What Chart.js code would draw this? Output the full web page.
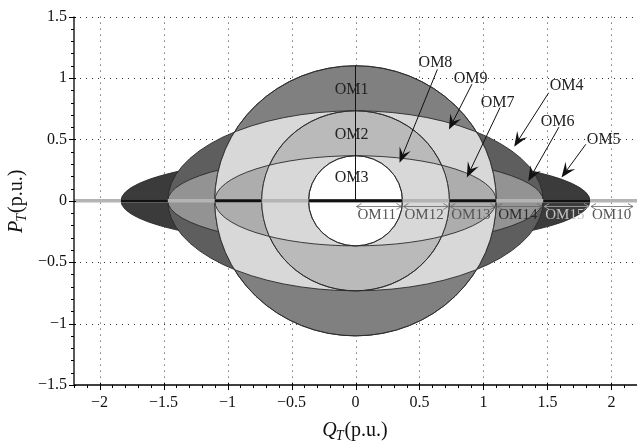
<!DOCTYPE html>
<html>
<head>
<meta charset="utf-8">
<script src="https://cdn.jsdelivr.net/npm/chart.js@4.4.1/dist/chart.umd.min.js"></script>
<style>
  html, body { margin: 0; padding: 0; background: #fff; }
  canvas { display: block; }
</style>
</head>
<body>
<canvas id="chart" width="637" height="445"></canvas>
<script>
// axis ticks (p.u.)
const qTicks = [-2, -1.5, -1, -0.5, 0, 0.5, 1, 1.5, 2];
const pTicks = [-1.5, -1, -0.5, 0, 0.5, 1, 1.5];

// boundary curves, all centred on the origin: semi-axis along Q and along P
const shapeNames = ["E5", "E42", "E41", "C3", "E31", "C2", "C1"];
const semiQ = [1.833, 1.467, 1.467, 1.1, 1.1, 0.733, 0.367];
const semiP = [0.367, 0.733, 0.367, 1.1, 0.367, 0.733, 0.367];

// thick black pieces of the P = 0 line
const segFrom = [-1.833, -1.1, -0.367, 0.733, 1.467];
const segTo = [-1.467, -0.733, 0.367, 1.1, 1.833];

// Q ranges marked under the axis
const rangeNames = ["OM11", "OM12", "OM13", "OM14", "OM15", "OM10"];
const rangeFrom = [0, 0.367, 0.733, 1.1, 1.467, 1.833];
const rangeTo = [0.367, 0.733, 1.1, 1.467, 1.833, 2.2];

// labels written inside the regions
const regionNames = ["OM1", "OM2", "OM3"];
const regionQ = [-0.03, -0.03, -0.03];
const regionP = [0.9, 0.54, 0.19];

// labels with arrows: text point, arrow start, arrow tip
const calloutNames = ["OM8", "OM9", "OM7", "OM4", "OM6", "OM5"];
const calloutQ = [0.625, 0.9, 1.11, 1.65, 1.58, 1.94];
const calloutP = [1.12, 0.99, 0.8, 0.94, 0.64, 0.5];
const tailQ = [0.64, 0.91, 1.13, 1.51, 1.59, 1.8];
const tailP = [1.07, 0.95, 0.76, 0.88, 0.6, 0.46];
const tipQ = [0.344, 0.73, 0.87, 1.24, 1.35, 1.61];
const tipP = [0.31, 0.58, 0.19, 0.44, 0.16, 0.19];

const serif = "'Liberation Serif', 'DejaVu Serif', serif";

// fill order: [shape, clipped to shape, colour]
const layers = [
  ["E5", null, "#3b3b3b"],
  ["E42", null, "#5e5e5e"],
  ["E41", null, "#939393"],
  ["C3", null, "#808080"],
  ["E42", "C3", "#d8d8d8"],
  ["E31", "C3", "#adadad"],
  ["C2", null, "#bababa"],
  ["E31", "C2", "#d8d8d8"],
  ["C1", null, "#ffffff"],
];

// text colour of the range labels (light one sits on the dark region)
const rangeInk = ["#555", "#555", "#555", "#2a2a2a", "#c4c4c4", "#555"];

function shapePath(chart, name) {
  const { ctx, scales: { x, y } } = chart;
  const i = shapeNames.indexOf(name);
  const cx = x.getPixelForValue(0);
  const cy = y.getPixelForValue(0);
  const rx = x.getPixelForValue(semiQ[i]) - cx;
  const ry = cy - y.getPixelForValue(semiP[i]);
  ctx.beginPath();
  ctx.ellipse(cx, cy, rx, ry, 0, 0, Math.PI * 2);
}

function arrow(ctx, x0, y0, x1, y1) {
  const ang = Math.atan2(y1 - y0, x1 - x0);
  const ux = Math.cos(ang), uy = Math.sin(ang);
  const L = 15, W = 6;
  const bx = x1 - ux * L, by = y1 - uy * L;
  const nx = x1 - ux * L * 0.6, ny = y1 - uy * L * 0.6;
  ctx.beginPath();
  ctx.moveTo(x0, y0);
  ctx.lineTo(nx, ny);
  ctx.stroke();
  ctx.beginPath();
  ctx.moveTo(x1, y1);
  ctx.lineTo(bx - uy * W, by + ux * W);
  ctx.lineTo(nx, ny);
  ctx.lineTo(bx + uy * W, by - ux * W);
  ctx.closePath();
  ctx.fill();
}

function axisTitle(ctx, main, sub, rest, size) {
  ctx.font = `italic ${size}px ${serif}`;
  const w1 = ctx.measureText(main).width;
  ctx.font = `italic ${Math.round(size * 0.7)}px ${serif}`;
  const w2 = ctx.measureText(sub).width;
  ctx.font = `${size}px ${serif}`;
  const w3 = ctx.measureText(rest).width;
  let x0 = -(w1 + w2 + w3 + 1) / 2;
  ctx.textAlign = "left";
  ctx.textBaseline = "alphabetic";
  ctx.font = `italic ${size}px ${serif}`;
  ctx.fillText(main, x0, 0);
  ctx.font = `italic ${Math.round(size * 0.7)}px ${serif}`;
  ctx.fillText(sub, x0 + w1 - 1, size * 0.22);
  ctx.font = `${size}px ${serif}`;
  ctx.fillText(rest, x0 + w1 + w2, 0);
}

const regionsPlugin = {
  id: "regions",
  beforeDatasetsDraw(chart) {
    const { ctx, chartArea: a, scales: { x, y } } = chart;
    ctx.save();

    // dotted grid
    ctx.strokeStyle = "#333";
    ctx.lineWidth = 1;
    ctx.setLineDash([1, 5]);
    qTicks.forEach((v) => {
      const px = Math.round(x.getPixelForValue(v)) + 0.5;
      ctx.beginPath();
      ctx.moveTo(px, a.top);
      ctx.lineTo(px, a.bottom);
      ctx.stroke();
    });
    pTicks.forEach((v) => {
      if (v === pTicks[0]) return;
      const py = Math.round(y.getPixelForValue(v)) + 0.5;
      ctx.beginPath();
      ctx.moveTo(a.left, py);
      ctx.lineTo(a.right, py);
      ctx.stroke();
    });
    ctx.setLineDash([]);

    // operating regions
    ctx.lineWidth = 0.9;
    ctx.strokeStyle = "#2a2a2a";
    layers.forEach(([name, clip, color]) => {
      ctx.save();
      if (clip) {
        shapePath(chart, clip);
        ctx.clip();
      }
      shapePath(chart, name);
      ctx.fillStyle = color;
      ctx.fill();
      ctx.stroke();
      ctx.restore();
    });
    ["C3", "C2", "C1"].forEach((n) => {
      shapePath(chart, n);
      ctx.stroke();
    });
    ctx.restore();
  },

  afterDatasetsDraw(chart) {
    const { ctx, chartArea: a, scales: { x, y } } = chart;
    ctx.save();

    // region labels
    ctx.fillStyle = "#222";
    ctx.font = `16px ${serif}`;
    ctx.textAlign = "center";
    ctx.textBaseline = "middle";
    regionNames.forEach((n, i) => {
      ctx.fillText(n, x.getPixelForValue(regionQ[i]), y.getPixelForValue(regionP[i]));
    });

    // callouts
    ctx.strokeStyle = "#111";
    ctx.fillStyle = "#111";
    ctx.lineWidth = 1;
    calloutNames.forEach((n, i) => {
      arrow(ctx,
        x.getPixelForValue(tailQ[i]), y.getPixelForValue(tailP[i]),
        x.getPixelForValue(tipQ[i]), y.getPixelForValue(tipP[i]));
    });
    ctx.fillStyle = "#222";
    calloutNames.forEach((n, i) => {
      ctx.fillText(n, x.getPixelForValue(calloutQ[i]), y.getPixelForValue(calloutP[i]));
    });

    // Q ranges under the axis
    const ay = Math.round(y.getPixelForValue(-0.045)) + 0.5;
    const ly = y.getPixelForValue(-0.15);
    ctx.lineWidth = 0.8;
    ctx.font = `15px ${serif}`;
    ctx.textAlign = "left";
    ctx.textBaseline = "alphabetic";
    rangeNames.forEach((n, i) => {
      const x0 = x.getPixelForValue(rangeFrom[i]) + 1;
      const x1 = Math.min(x.getPixelForValue(rangeTo[i]), a.right - 3) - 1;
      ctx.strokeStyle = i === 4 ? "#aaa" : "#666";
      ctx.beginPath();
      ctx.moveTo(x0, ay);
      ctx.lineTo(x1, ay);
      ctx.moveTo(x0 + 5, ay - 3);
      ctx.lineTo(x0, ay);
      ctx.lineTo(x0 + 5, ay + 3);
      ctx.moveTo(x1 - 5, ay - 3);
      ctx.lineTo(x1, ay);
      ctx.lineTo(x1 - 5, ay + 3);
      ctx.stroke();
      ctx.fillStyle = rangeInk[i];
      ctx.fillText(n, x.getPixelForValue(rangeFrom[i]) + 2, ly);
    });

    // axis lines and ticks
    ctx.strokeStyle = "#000";
    ctx.lineWidth = 1.3;
    ctx.beginPath();
    ctx.moveTo(a.left, a.top);
    ctx.lineTo(a.left, a.bottom);
    ctx.lineTo(a.right, a.bottom);
    ctx.stroke();
    ctx.lineWidth = 1;
    for (let k = -22; k <= 22; k++) {
      const px = Math.round(x.getPixelForValue(k / 10)) + 0.5;
      const len = k % 5 === 0 ? 5 : 3;
      ctx.beginPath();
      ctx.moveTo(px, a.bottom - (k % 5 === 0 ? 2 : 0));
      ctx.lineTo(px, a.bottom + len);
      ctx.stroke();
    }
    for (let k = -15; k <= 15; k++) {
      const py = Math.round(y.getPixelForValue(k / 10)) + 0.5;
      const len = k % 5 === 0 ? 5 : 3;
      ctx.beginPath();
      ctx.moveTo(a.left - len, py);
      ctx.lineTo(a.left + (k % 5 === 0 ? 2 : 0), py);
      ctx.stroke();
    }

    // axis titles
    ctx.fillStyle = "#111";
    ctx.save();
    ctx.translate(x.getPixelForValue(0), 436);
    axisTitle(ctx, "Q", "T", "(p.u.)", 20);
    ctx.restore();
    ctx.save();
    ctx.translate(22, y.getPixelForValue(0));
    ctx.rotate(-Math.PI / 2);
    axisTitle(ctx, "P", "T", "(p.u.)", 20);
    ctx.restore();

    ctx.restore();
  },
};

const fmt = (v) => (v < 0 ? "\u2212" : "") + Math.abs(v);

const datasets = [];
segFrom.forEach((s, i) => {
  datasets.push({
    data: [{ x: s, y: 0 }, { x: segTo[i], y: 0 }],
    borderColor: "#111",
    borderWidth: 3,
  });
});
datasets.push({
  data: [{ x: 0, y: 0 }, { x: 0, y: semiP[shapeNames.indexOf("C3")] }],
  borderColor: "#111",
  borderWidth: 1,
});
datasets.push({
  data: [{ x: -2.2, y: 0 }, { x: 2.2, y: 0 }],
  borderColor: "#b4b4b4",
  borderWidth: 3.5,
});
datasets.forEach((d) => {
  d.showLine = true;
  d.pointRadius = 0;
  d.clip = false;
});

Chart.defaults.font.family = serif;

new Chart(document.getElementById("chart"), {
  type: "scatter",
  data: { datasets },
  options: {
    responsive: false,
    devicePixelRatio: 1,
    animation: false,
    layout: { padding: { top: 10, right: 0, left: 0, bottom: 0 } },
    plugins: { legend: { display: false }, tooltip: { enabled: false } },
    scales: {
      x: {
        type: "linear",
        min: -2.2,
        max: 2.2,
        afterBuildTicks: (s) => { s.ticks = qTicks.map((v) => ({ value: v })); },
        afterFit: (s) => { s.height = 60; },
        grid: { display: false, drawTicks: false },
        border: { display: false },
        ticks: {
          padding: 8,
          color: "#111",
          font: { size: 16, family: serif },
          maxRotation: 0,
          autoSkip: false,
          callback: fmt,
        },
      },
      y: {
        type: "linear",
        min: -1.5,
        max: 1.5,
        afterBuildTicks: (s) => { s.ticks = pTicks.map((v) => ({ value: v })); },
        afterFit: (s) => { s.width = 74; },
        grid: { display: false, drawTicks: false },
        border: { display: false },
        ticks: {
          padding: 7,
          color: "#111",
          font: { size: 16, family: serif },
          callback: fmt,
        },
      },
    },
  },
  plugins: [regionsPlugin],
});
</script>
</body>
</html>
